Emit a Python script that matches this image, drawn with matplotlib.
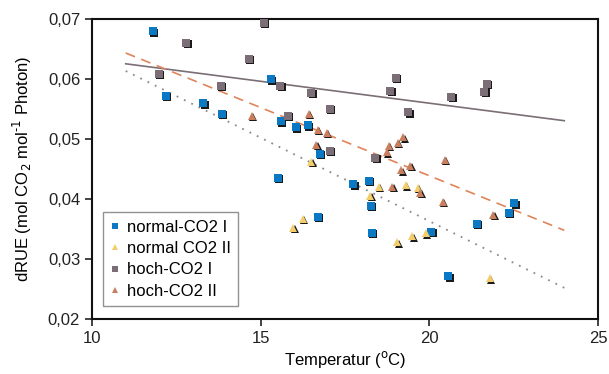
import matplotlib.pyplot as plt
import matplotlib.transforms as mtransforms
from matplotlib.ticker import FuncFormatter

plt.rcParams['font.family'] = ['Liberation Sans', 'DejaVu Sans']

# normal-CO2 I (blue squares)
n1_t = [11.8, 12.2, 13.3, 13.85, 15.3, 15.52, 15.6, 16.05, 16.4, 16.76, 16.7,
        17.75, 18.2, 18.26, 18.3, 20.06, 20.56, 21.4, 22.35, 22.52]
n1_v = [0.0680, 0.0573, 0.0560, 0.0542, 0.0600, 0.0436, 0.0530, 0.0520, 0.0523, 0.0476, 0.0370,
        0.0425, 0.0431, 0.0389, 0.0344, 0.0346, 0.0271, 0.0359, 0.0377, 0.0393]

# normal CO2 II (yellow triangles)
n2_t = [16.5, 15.97, 16.25, 18.5, 18.25, 19.3, 19.65, 19.05, 19.5, 19.9, 21.8]
n2_v = [0.0462, 0.0352, 0.0367, 0.0421, 0.0405, 0.0423, 0.0419, 0.0328, 0.0338, 0.0343, 0.0268]

# hoch-CO2 I (gray squares)
h1_t = [11.99, 12.8, 13.83, 14.66, 15.1, 15.58, 15.8, 16.5, 17.06, 17.06,
        18.4, 18.84, 19.0, 19.38, 20.65, 21.63, 21.7]
h1_v = [0.0609, 0.0661, 0.0589, 0.0634, 0.0694, 0.0589, 0.0539, 0.0577, 0.0551, 0.0481,
        0.0469, 0.0581, 0.0603, 0.0545, 0.0571, 0.0579, 0.0592]

# hoch-CO2 II (orange triangles)
h2_t = [14.73, 16.42, 16.7, 16.96, 16.65, 18.8, 18.75, 19.07, 19.23, 19.44, 19.17,
        20.45, 18.9, 19.73, 20.4, 21.9]
h2_v = [0.0539, 0.0542, 0.0516, 0.0511, 0.0491, 0.0489, 0.0478, 0.0494, 0.0503, 0.0456, 0.0448,
        0.0466, 0.0421, 0.0411, 0.0396, 0.0374]

# trend lines (end points)
trend_t = [11, 24]
trend_normal = [0.0614, 0.0252]
trend_h1 = [0.0626, 0.0531]
trend_h2 = [0.0644, 0.0348]

fig = plt.figure(figsize=(6.09, 3.74), dpi=100)
ax = fig.add_axes([0.151, 0.147, 0.831, 0.801])

ax.plot(trend_t, trend_h1, color='#7b6e76', lw=1.2, zorder=2)
ax.plot(trend_t, trend_h2, color='#e0845a', lw=1.2, ls=(0, (6, 4)), zorder=2)
ax.plot(trend_t, trend_normal, color='#8a8a8a', lw=1.3, ls=(0, (1, 3.5)), zorder=2)

# dark drop shadow under each marker
shadow = mtransforms.offset_copy(ax.transData, fig=fig, x=1.3, y=-1.3, units='dots')

series = [
    (n1_t, n1_v, 's', '#0a78c2', 5.2, 'normal-CO2 I'),
    (n2_t, n2_v, '^', '#f3cd6c', 6.0, 'normal CO2 II'),
    (h1_t, h1_v, 's', '#7b6e76', 5.2, 'hoch-CO2 I'),
    (h2_t, h2_v, '^', '#c97f5e', 6.0, 'hoch-CO2 II'),
]
handles = []
for t, v, m, c, ms, lab in series:
    ax.plot(t, v, ls='none', marker=m, ms=ms, color='#1a1a1a', mew=0,
            transform=shadow, zorder=3)
    h, = ax.plot(t, v, ls='none', marker=m, ms=ms, color=c, mew=0, zorder=4, label=lab)
    handles.append(h)

ax.set_xlim(10, 25)
ax.set_ylim(0.02, 0.07)
ax.set_xticks([10, 15, 20, 25])
ax.set_yticks([0.02, 0.03, 0.04, 0.05, 0.06, 0.07])
ax.yaxis.set_major_formatter(FuncFormatter(lambda v, p: f'{v:.2f}'.replace('.', ',')))
ax.tick_params(direction='out', length=5, width=1.2, labelsize=12, colors='#222222')
for s in ax.spines.values():
    s.set_linewidth(1.5)
    s.set_color('#111111')

ax.set_xlabel('Temperatur ($^{\\rm o}$C)', fontsize=12, labelpad=2)
ax.set_ylabel('dRUE (mol CO$_2$ mol$^{\\text{-1}}$ Photon)', fontsize=12, labelpad=10)

leg = ax.legend(handles=handles, loc='lower left', bbox_to_anchor=(0.005, 0.015),
                fontsize=12, frameon=True, fancybox=False, handlelength=0.6,
                handletextpad=0.4, borderpad=0.45, labelspacing=0.38, markerscale=0.7)
leg.get_frame().set_edgecolor('#777777')
leg.get_frame().set_linewidth(1.0)

fig.savefig('out.png', dpi=100)
